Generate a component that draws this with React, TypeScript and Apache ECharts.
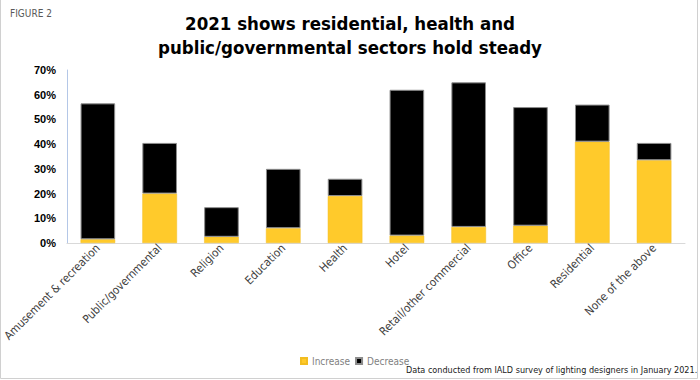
import React, { useEffect, useRef } from "react";
import * as echarts from "echarts";

const categories = [
  "Amusement & recreation",
  "Public/governmental",
  "Religion",
  "Education",
  "Health",
  "Hotel",
  "Retail/other commercial",
  "Office",
  "Residential",
  "None of the above",
];
const increase = [1.5, 20, 2.5, 6, 19, 3, 6.5, 7, 41, 33.5];
const decrease = [55, 20.5, 12, 24, 7, 59, 58.5, 48, 15, 7];
const yTicks = [0, 10, 20, 30, 40, 50, 60, 70];

const TITLE_LINES = ["2021 shows residential, health and", "public/governmental sectors hold steady"];
const FOOTNOTE = "Data conducted from IALD survey of lighting designers in January 2021.";
const FIG = "FIGURE 2";

const FONT = '"DejaVu Sans Condensed", "Liberation Sans", sans-serif';
const FONT_Y = '"Liberation Sans", sans-serif';

export default function App() {
  const ref = useRef<HTMLDivElement>(null);
  useEffect(() => {
    if (!ref.current) return;
    const chart = echarts.init(ref.current, undefined, { renderer: "svg" });
    chart.setOption({
      animation: false,
      backgroundColor: "#ffffff",
      title: {
        text: TITLE_LINES.join("\n"),
        left: "center",
        top: 6,
        textStyle: {
          fontFamily: FONT,
          fontSize: 18.5,
          fontWeight: "bold",
          color: "#000000",
          lineHeight: 24,
        },
      },
      legend: {
        data: ["Increase", "Decrease"],
        left: 300,
        top: 356,
        padding: 0,
        icon: "rect",
        itemWidth: 6,
        itemHeight: 6,
        itemGap: 5,
        textStyle: { fontFamily: FONT, fontSize: 10, color: "#7f7f7f" },
      },
      grid: { left: 62, right: 15, top: 70, bottom: 137, containLabel: false },
      xAxis: {
        type: "category",
        data: categories,
        axisLine: { lineStyle: { color: "#d9d9d9", width: 1 } },
        axisTick: { show: false },
        axisLabel: {
          rotate: 45,
          interval: 0,
          margin: 3,
          fontFamily: FONT,
          fontSize: 11.5,
          color: "#404040",
        },
      },
      yAxis: {
        type: "value",
        min: yTicks[0],
        max: yTicks[yTicks.length - 1],
        interval: 10,
        axisLine: { show: true, lineStyle: { color: "#b4c7e7", width: 1 } },
        axisTick: { show: false },
        splitLine: { show: false },
        axisLabel: {
          formatter: (v: number) => v + "%",
          fontFamily: FONT_Y,
          fontSize: 11,
          fontWeight: "bold",
          color: "#000000",
          margin: 11,
        },
      },
      series: [
        {
          name: "Increase",
          type: "bar",
          stack: "total",
          data: increase,
          barWidth: "56%",
          itemStyle: { color: "#FFCA2B", borderColor: "#F2BD20", borderWidth: 0.5 },
        },
        {
          name: "Decrease",
          type: "bar",
          stack: "total",
          data: decrease,
          barWidth: "56%",
          itemStyle: { color: "#000000", borderColor: "#8c8c8c", borderWidth: 1 },
        },
      ],
      graphic: [
        {
          type: "text",
          left: 10,
          top: 8,
          style: { text: FIG, fontFamily: FONT, fontSize: 10, fill: "#595959" },
        },
        {
          type: "text",
          left: 406,
          top: 365,
          style: { text: FOOTNOTE, fontFamily: FONT, fontSize: 9, fill: "#1a1a1a" },
        },
        {
          type: "polyline",
          shape: { points: [[0.5, 0], [0.5, 378.5], [697.5, 378.5], [697.5, 0]] },
          style: { stroke: "#d0d0d0", lineWidth: 1, fill: "none" },
          silent: true,
        },
      ],
    });
    return () => chart.dispose();
  }, []);
  return (
    <div
      ref={ref}
      style={{ position: "fixed", left: 0, top: 0, width: 700, height: 380 }}
    />
  );
}
